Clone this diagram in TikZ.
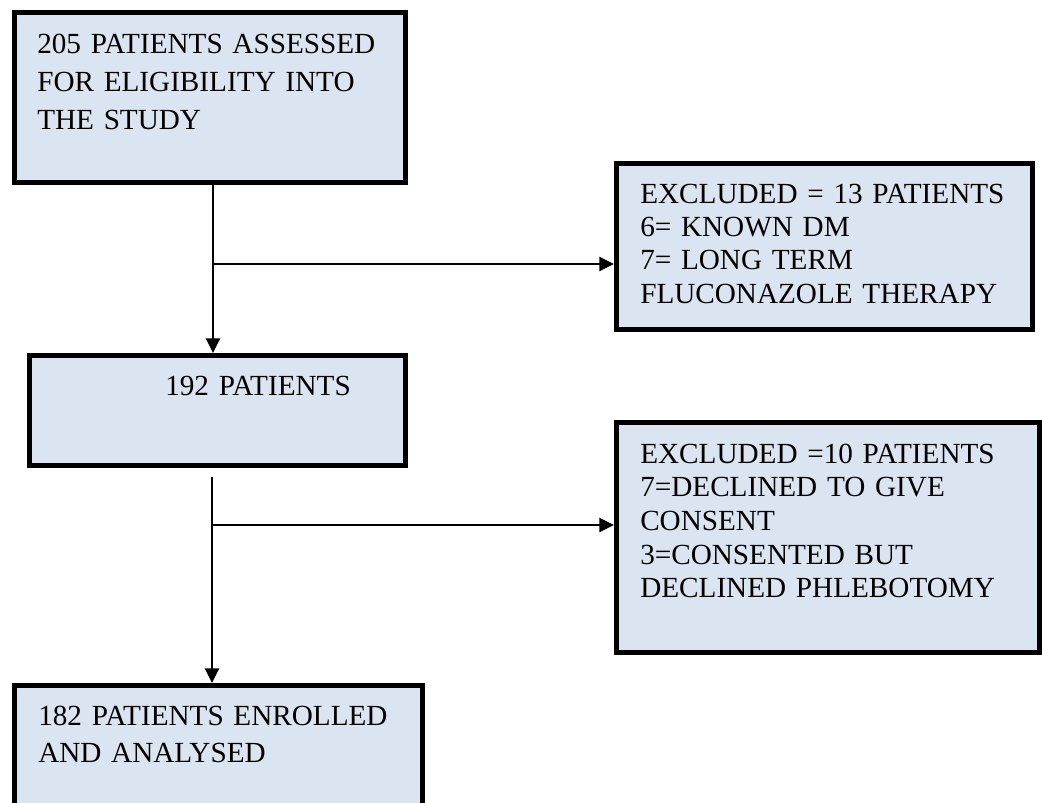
\documentclass[tikz,border=0pt]{standalone}
\usepackage{fontspec}
\setmainfont{Liberation Serif}
\usetikzlibrary{arrows.meta}
\definecolor{boxfill}{RGB}{219,229,241}
\begin{document}
\begin{tikzpicture}[x=0.75pt,y=-0.75pt,
  flowbox/.style={draw=black,line width=4pt,fill=boxfill,inner sep=0pt,outer sep=2pt,anchor=north west},
  boxtext/.style={anchor=base west,inner sep=0pt,text width=330pt,align=left,font=\fontsize{21.9pt}{#1}\selectfont},
  conn/.style={draw=black,line width=1.8pt,-{Triangle[length=11pt,width=10.5pt]}}]
\useasboundingbox (0,0) rectangle (1043,803);
% boxes
\node[flowbox,minimum width=293pt,minimum height=127.25pt] (b1) at (12,10) {};
\node[flowbox,minimum width=311.75pt,minimum height=124.25pt] (b2) at (614,161) {};
\node[flowbox,minimum width=281.75pt,minimum height=82.25pt] (b3) at (27,353) {};
\node[flowbox,minimum width=317pt,minimum height=172.25pt] (b4) at (614,420) {};
\node[flowbox,minimum width=305.75pt,minimum height=108.75pt] (b5) at (12,683) {};
% texts
\node[boxtext=28.75pt] (t1) at (37,53) {205 PATIENTS ASSESSED\\FOR ELIGIBILITY INTO\\THE STUDY};
\node[boxtext=25pt] (t2) at (640,203) {EXCLUDED = 13 PATIENTS\\6= KNOWN DM\\7= LONG TERM\\FLUCONAZOLE THERAPY};
\node[boxtext=25pt] (t3) at (165,395) {192 PATIENTS};
\node[boxtext=25.3pt] (t4) at (640,463) {EXCLUDED =10 PATIENTS\\7=DECLINED TO GIVE\\CONSENT\\3=CONSENTED BUT\\DECLINED PHLEBOTOMY};
\node[boxtext=27.75pt] (t5) at (38,725) {182 PATIENTS ENROLLED\\AND ANALYSED};
% connectors
\coordinate (j1) at (213,264);
\coordinate (s2) at (212,477);
\coordinate (j2) at (212,525);
\draw[conn] (j1 |- b1.south) -- (j1 |- b3.north);
\draw[conn] (j1) -- (j1 -| b2.west);
\draw[conn] (s2) -- (s2 |- b5.north);
\draw[conn] (j2) -- (j2 -| b4.west);
\end{tikzpicture}
\end{document}
